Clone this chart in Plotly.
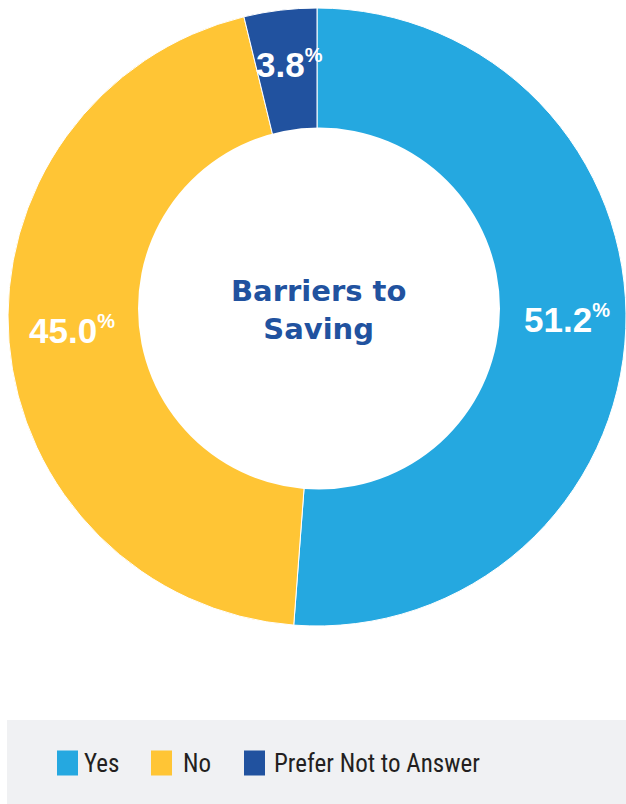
import math
import plotly.graph_objects as go

# ---- data ----
categories = ["Yes", "No", "Prefer Not to Answer"]
values = [51.2, 45.0, 3.8]
colors = ["#25a8e0", "#ffc535", "#21529f"]
title_text = "Barriers to<br>Saving"

# ---- layout constants (page pixel space) ----
W, H = 626, 804
def px(x):
    return x / W
def py(y):
    return 1 - y / H

PIE_LEFT, PIE_TOP = 8, 8
R_OUT = (W - PIE_LEFT) / 2
HOLE_CX, HOLE_CY, HOLE_R = 319, 308.5, 181
LAB_CX, LAB_CY, LAB_R = 319, 310, 248

fig = go.Figure()
fig.add_trace(go.Pie(
    labels=categories,
    values=values,
    marker=dict(colors=colors, line=dict(color="white", width=1)),
    sort=False,
    direction="clockwise",
    rotation=0,
    hole=0.5,
    textinfo="none",
    hoverinfo="label+percent",
    showlegend=False,
    domain=dict(x=[px(PIE_LEFT), 1], y=[py(PIE_TOP + 2 * R_OUT), py(PIE_TOP)]),
))

shapes = []
# white hole (slightly off-centre as in the reference)
shapes.append(dict(type="circle", xref="paper", yref="paper",
                   x0=px(HOLE_CX - HOLE_R), x1=px(HOLE_CX + HOLE_R),
                   y0=py(HOLE_CY + HOLE_R), y1=py(HOLE_CY - HOLE_R),
                   fillcolor="white", line=dict(width=0), layer="above"))
# legend background
shapes.append(dict(type="rect", xref="paper", yref="paper",
                   x0=px(7), x1=px(W), y0=py(H), y1=py(720),
                   fillcolor="#f0f1f3", line=dict(width=0), layer="below"))

annotations = []
# slice labels at mid-angle of each slice
total = sum(values)
cum = 0.0
for v in values:
    mid = (cum + v / 2) / total * 2 * math.pi
    cum += v
    x = LAB_CX + LAB_R * math.sin(mid)
    y = LAB_CY - LAB_R * math.cos(mid)
    annotations.append(dict(
        x=px(x), y=py(y), xref="paper", yref="paper", showarrow=False,
        text=f"{v:.1f}<sup><span style='font-size:20px'>%</span></sup>",
        font=dict(family="Liberation Sans, Arial, sans-serif", size=35,
                  color="white", weight="bold"),
        xanchor="center", yanchor="middle"))

# centre title
annotations.append(dict(
    x=px(318), y=py(310), xref="paper", yref="paper", showarrow=False,
    text=title_text, align="center",
    font=dict(family="DejaVu Sans, sans-serif", size=29, color="#21529f",
              weight="bold"),
    xanchor="center", yanchor="middle"))

# custom legend
legend_sq_x = [57, 151, 244]
legend_tx_x = [82, 181, 272]
SQ_W, SQ_H = 21, 25
LEG_CY = 763
for cat, col, sx, tx in zip(categories, colors, legend_sq_x, legend_tx_x):
    shapes.append(dict(type="rect", xref="paper", yref="paper",
                       x0=px(sx), x1=px(sx + SQ_W),
                       y0=py(LEG_CY + SQ_H / 2), y1=py(LEG_CY - SQ_H / 2),
                       fillcolor=col, line=dict(width=0), layer="above"))
    annotations.append(dict(
        x=px(tx), y=py(LEG_CY), xref="paper", yref="paper", showarrow=False,
        text=cat, xanchor="left", yanchor="middle",
        font=dict(family="Liberation Sans Narrow, Roboto Condensed, Liberation Sans, sans-serif",
                  size=25, color="#231f20")))

fig.update_layout(
    width=W, height=H, autosize=False,
    margin=dict(l=0, r=0, t=0, b=0, pad=0),
    paper_bgcolor="white", plot_bgcolor="white",
    shapes=shapes, annotations=annotations,
    showlegend=False,
)

fig.write_html(
    "out.html",
    config={"displayModeBar": False},
    post_script="document.body.style.margin='0';document.body.style.overflow='hidden';",
)
